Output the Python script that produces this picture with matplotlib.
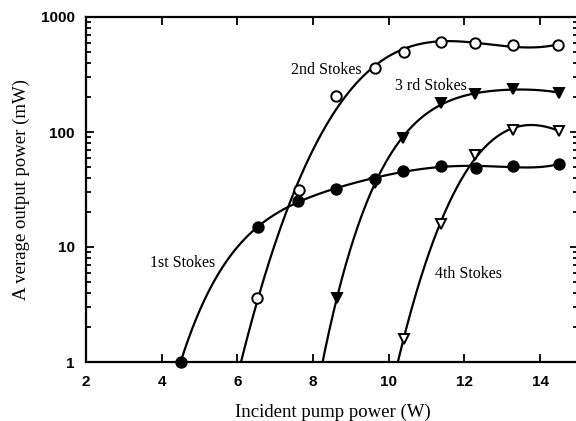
import numpy as np
import matplotlib
matplotlib.use("Agg")
import matplotlib.pyplot as plt
from matplotlib.ticker import LogLocator, FixedLocator, NullFormatter

# Data (pump power in W, output power in mW)
x_1st = [4.5, 6.55, 7.6, 8.6, 9.63, 10.37, 11.37, 12.3, 13.27, 14.5]
y_1st = [1.0, 15.0, 25.0, 32.0, 39.0, 46.0, 51.0, 48.5, 50.5, 52.5]

x_2nd = [6.53, 7.63, 8.61, 9.64, 10.39, 11.38, 12.28, 13.27, 14.48]
y_2nd = [3.6, 31.0, 205.0, 358.0, 495.0, 610.0, 598.0, 571.0, 571.0]

x_3rd = [8.63, 9.63, 10.37, 11.38, 12.29, 13.27, 14.49]
y_3rd = [3.6, 36.0, 88.0, 178.0, 213.0, 235.0, 220.0]

x_4th = [10.39, 11.38, 12.29, 13.27, 14.49]
y_4th = [1.6, 16.0, 63.0, 104.0, 103.0]

x_ticks = [2, 4, 6, 8, 10, 12, 14]
y_ticks = [1, 10, 100, 1000]
y_tick_labels = ["1", "10", "100", "1000"]

fig = plt.figure(figsize=(5.76, 4.21), dpi=100)
ax = fig.add_axes([86 / 576, 1 - 362 / 421, 492 / 576, 345 / 421])


def fit_curve(xs, ys, deg, x_start):
    # smooth trend line through the measured points (fit in log space)
    p = np.polyfit(xs, np.log10(ys), deg)
    xx = np.linspace(x_start, xs[-1], 300)
    return xx, 10 ** np.polyval(p, xx)


series = [
    (x_1st, y_1st, 5, 4.5, "o", "black"),
    (x_2nd, y_2nd, 4, 6.0, "o", "white"),
    (x_3rd, y_3rd, 4, 8.0, "v", "black"),
    (x_4th, y_4th, 3, 10.0, "v", "white"),
]

for xs, ys, deg, x0, mk, fc in series:
    xx, yy = fit_curve(xs, ys, deg, x0)
    ax.plot(xx, yy, color="black", lw=1.6, zorder=2)
    ax.plot(xs, ys, ls="none", marker=mk, ms=7.5, mfc=fc, mec="black",
            mew=1.4, zorder=3, clip_on=False)

ax.set_yscale("log")
ax.set_xlim(2, 15)
ax.set_ylim(1, 1000)

ax.xaxis.set_major_locator(FixedLocator(x_ticks))
ax.set_yticks(y_ticks)
ax.set_yticklabels(y_tick_labels)
ax.yaxis.set_minor_locator(LogLocator(base=10, subs=np.arange(2, 10)))
ax.yaxis.set_minor_formatter(NullFormatter())

ax.tick_params(which="both", direction="in", top=True, right=True, width=1.3)
ax.tick_params(which="major", length=6)
ax.tick_params(which="minor", length=3.5)
ax.tick_params(axis="x", pad=9)
ax.tick_params(axis="y", pad=8)
for lab in ax.get_xticklabels() + ax.get_yticklabels():
    lab.set_fontfamily("Liberation Sans")
    lab.set_fontweight("bold")
    lab.set_fontsize(11)

for sp in ax.spines.values():
    sp.set_linewidth(1.6)

serif = "Liberation Serif"
ax.set_xlabel("Incident pump power (W)", fontfamily=serif, fontsize=13.5)
ax.set_ylabel("A verage output power (mW)", fontfamily=serif, fontsize=13.5)
ax.xaxis.set_label_coords(0.501, -0.12)
ax.yaxis.set_label_coords(-0.114, 0.5)

ax.text(7.42, 346, "2nd Stokes", fontfamily=serif, fontsize=11.5, va="center", ha="left")
ax.text(10.16, 251, "3 rd Stokes", fontfamily=serif, fontsize=11.5, va="center", ha="left")
ax.text(3.69, 7.3, "1st Stokes", fontfamily=serif, fontsize=11.5, va="center", ha="left")
ax.text(11.22, 5.8, "4th Stokes", fontfamily=serif, fontsize=11.5, va="center", ha="left")

fig.savefig("out.png", dpi=100)
